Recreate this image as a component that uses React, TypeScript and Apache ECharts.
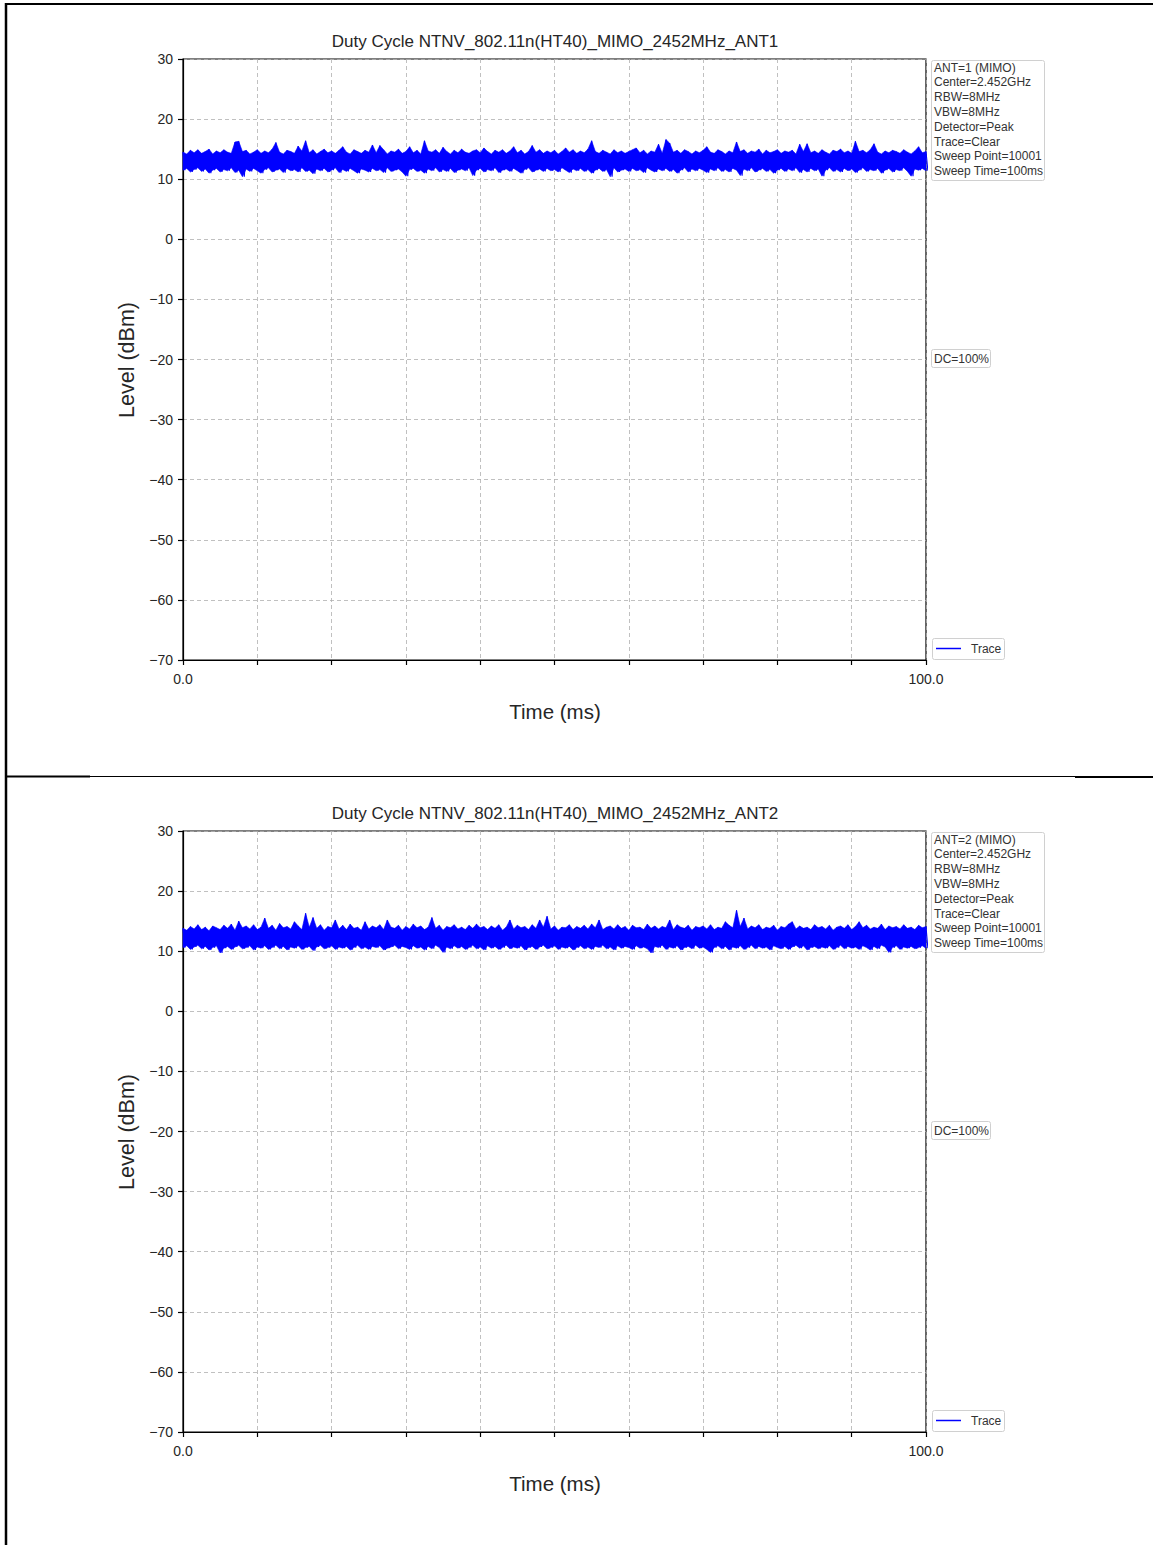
import React, { useEffect, useRef } from "react";
import * as echarts from "echarts";

const TIME_STEP = 0.5; // ms between read envelope samples
const titles = [
  "Duty Cycle NTNV_802.11n(HT40)_MIMO_2452MHz_ANT1",
  "Duty Cycle NTNV_802.11n(HT40)_MIMO_2452MHz_ANT2",
];
const infoLines1 = ["ANT=1 (MIMO)", "Center=2.452GHz", "RBW=8MHz", "VBW=8MHz", "Detector=Peak", "Trace=Clear", "Sweep Point=10001", "Sweep Time=100ms"];
const infoLines2 = ["ANT=2 (MIMO)", "Center=2.452GHz", "RBW=8MHz", "VBW=8MHz", "Detector=Peak", "Trace=Clear", "Sweep Point=10001", "Sweep Time=100ms"];
const dcText = "DC=100%";
const legendName = "Trace";
const xLabelText = "Time (ms)";
const yLabelText = "Level (dBm)";
const xMin = 0, xMax = 100, xStep = 10;
const yMin = -70, yMax = 30, yStep = 10;

// ANT1 trace: upper (peak) excursions, one per 0.5 ms
const ant1Upper = [
  14.5, 14.2, 14.8, 14.4, 14.9, 14.3, 14.6, 15.0, 14.2, 14.7,
  14.4, 14.9, 14.5, 14.3, 16.2, 16.3, 14.6, 14.8, 14.2, 14.5,
  14.9, 14.3, 14.7, 14.4, 15.0, 16.1, 14.5, 14.2, 14.8, 14.6,
  14.3, 15.5, 14.7, 16.4, 14.4, 14.9, 14.2, 14.6, 15.0, 14.4,
  14.7, 14.3, 14.8, 15.4, 14.5, 14.2, 14.9, 14.6, 14.3, 14.8,
  14.5, 15.7, 14.4, 15.6, 14.9, 14.2, 14.7, 14.5, 15.0, 14.3,
  14.6, 15.4, 14.4, 14.8, 14.2, 16.4, 14.7, 14.5, 14.9, 14.3,
  15.3, 14.6, 14.2, 14.8, 14.4, 15.0, 14.5, 14.3, 14.7, 14.9,
  14.4, 15.2, 14.6, 14.2, 14.8, 14.5, 14.9, 14.3, 14.7, 15.4,
  14.4, 14.8, 14.2, 14.6, 15.6, 14.5, 14.9, 14.3, 14.7, 14.4,
  14.8, 14.2, 14.6, 15.2, 14.5, 14.9, 14.3, 14.7, 14.4, 15.0,
  16.4, 14.6, 14.3, 14.8, 14.5, 14.2, 14.9, 14.4, 14.7, 14.3,
  14.6, 14.9, 15.2, 14.4, 14.8, 14.2, 14.7, 14.5, 15.8, 14.3,
  16.6, 16.0, 14.5, 14.8, 14.3, 14.9, 14.6, 14.2, 14.7, 14.4,
  14.8, 15.4, 14.5, 14.3, 14.9, 14.6, 14.2, 14.7, 14.4, 16.2,
  14.6, 14.9, 14.3, 14.7, 14.5, 15.0, 14.2, 14.8, 14.4, 14.6,
  14.9, 14.3, 14.7, 14.5, 14.8, 14.2, 15.8, 14.6, 15.9, 14.4,
  14.7, 14.3, 14.9, 14.5, 14.2, 14.8, 14.6, 15.0, 14.4, 14.7,
  14.3, 16.3, 14.6, 14.8, 14.4, 14.9, 15.9, 14.5, 14.2, 14.7,
  14.4, 14.8, 14.6, 14.3, 14.9, 14.5, 14.2, 14.7, 15.4, 14.4,
  14.6,
];
// ANT1 trace: lower excursions, one per 0.5 ms (offset by 0.25 ms)
const ant1Lower = [
  11.5, 11.8, 11.2, 11.6, 11.9, 11.3, 11.7, 11.0, 11.5, 11.8,
  11.2, 11.6, 11.4, 11.9, 11.1, 11.5, 10.4, 11.7, 11.3, 11.8,
  11.4, 11.0, 11.6, 11.9, 11.2, 11.5, 11.7, 11.1, 11.8, 11.4,
  11.6, 11.2, 11.9, 11.3, 11.5, 10.9, 11.7, 11.4, 11.8, 11.2,
  11.5, 11.9, 11.1, 11.6, 11.3, 11.8, 11.4, 11.0, 11.7, 11.5,
  11.2, 11.8, 11.4, 11.6, 11.1, 11.9, 11.3, 11.5, 11.7, 11.2,
  10.5, 11.6, 11.8, 11.3, 11.5, 11.0, 11.7, 11.4, 11.9, 11.2,
  11.6, 11.3, 11.8, 11.1, 11.5, 11.7, 11.4, 11.9, 10.6, 11.5,
  11.8, 11.2, 11.6, 11.4, 11.9, 11.1, 11.5, 11.7, 11.3, 11.8,
  11.4, 11.0, 11.6, 11.9, 11.2, 11.5, 11.7, 11.3, 11.8, 11.4,
  11.6, 11.2, 11.9, 11.5, 11.1, 11.7, 11.4, 11.8, 11.3, 11.6,
  11.0, 11.5, 11.8, 11.3, 11.6, 10.4, 11.9, 11.2, 11.5, 11.7,
  11.3, 11.8, 11.4, 11.6, 11.1, 11.9, 11.5, 11.2, 11.7, 11.4,
  11.8, 11.3, 11.6, 11.0, 11.5, 11.9, 11.2, 11.7, 11.4, 11.8,
  11.5, 11.1, 11.7, 11.4, 11.9, 11.3, 11.6, 11.2, 11.8, 11.5,
  10.6, 11.7, 11.4, 11.9, 11.2, 11.5, 11.8, 11.3, 11.6, 11.0,
  11.5, 11.8, 11.3, 11.7, 11.4, 11.9, 11.1, 11.6, 11.2, 11.8,
  11.4, 11.7, 10.5, 11.5, 11.9, 11.3, 11.6, 11.2, 11.8, 11.4,
  11.7, 11.1, 11.5, 11.9, 11.3, 11.6, 11.4, 11.8, 11.0, 11.5,
  11.8, 11.2, 11.6, 11.4, 11.9, 11.3, 10.5, 11.7, 11.5, 11.8,
  11.4,
];
// ANT2 trace: upper excursions
const ant2Upper = [
  13.8, 13.5, 14.1, 13.7, 14.4, 13.6, 14.0, 13.4, 14.2, 13.9,
  13.6, 14.3, 13.8, 14.5, 13.5, 15.0, 13.9, 14.2, 13.7, 14.4,
  13.6, 14.0, 15.5, 13.8, 14.3, 13.5, 14.6, 13.9, 14.1, 13.7,
  14.9, 14.2, 13.6, 16.3, 14.0, 15.6, 13.8, 14.4, 13.5, 14.1,
  13.9, 15.2, 13.7, 14.3, 13.6, 14.5, 13.8, 14.0, 13.5, 14.9,
  13.7, 14.2, 13.9, 14.4, 13.6, 15.2, 14.0, 13.8, 14.3, 13.5,
  14.1, 13.7, 14.5, 13.9, 14.2, 13.6, 14.0, 15.6, 13.8, 14.3,
  13.5, 14.1, 13.9, 14.4, 13.7, 14.0, 13.6, 14.3, 13.8, 14.5,
  13.9, 14.1, 13.6, 14.2, 13.8, 14.4, 13.5, 14.0, 15.2, 13.7,
  14.3, 13.9, 14.1, 13.6, 14.4, 13.8, 15.2, 14.0, 15.8, 13.7,
  14.2, 13.5, 14.0, 13.9, 14.4, 13.6, 14.1, 13.8, 14.3, 13.7,
  14.5, 13.9, 15.2, 13.6, 14.0, 14.2, 13.7, 14.4, 13.8, 14.1,
  13.5, 14.3, 13.9, 14.0, 13.6, 14.5, 13.8, 14.2, 13.7, 14.1,
  13.9, 15.2, 13.6, 14.4, 14.0, 13.8, 14.3, 13.5, 14.1, 13.9,
  14.2, 13.7, 14.4, 13.6, 14.0, 13.8, 14.9, 14.3, 13.9, 16.8,
  14.1, 15.5, 13.7, 14.2, 13.9, 14.4, 13.6, 14.0, 13.8, 14.3,
  13.5, 14.1, 13.9, 14.5, 14.9, 13.7, 14.2, 13.8, 14.0, 13.6,
  14.4, 13.9, 14.1, 13.7, 14.3, 13.5, 14.0, 14.2, 13.8, 14.4,
  13.6, 14.1, 14.9, 13.9, 14.3, 13.7, 14.0, 13.8, 14.5, 13.6,
  14.2, 13.9, 14.1, 13.7, 14.4, 13.8, 14.0, 13.6, 14.3, 13.9,
  14.1,
];
// ANT2 trace: lower excursions
const ant2Lower = [
  10.6, 10.9, 10.3, 10.7, 11.0, 10.4, 10.8, 10.2, 10.6, 10.9,
  9.7, 10.5, 10.8, 10.3, 10.7, 11.0, 10.4, 10.6, 10.9, 10.2,
  10.7, 10.5, 10.9, 10.3, 10.6, 11.0, 10.4, 10.8, 10.2, 10.7,
  10.5, 10.9, 10.3, 10.6, 10.8, 10.1, 10.7, 11.0, 10.4, 10.6,
  10.9, 10.3, 10.7, 10.5, 10.8, 10.2, 10.6, 11.0, 10.4, 10.7,
  10.3, 10.8, 10.6, 10.9, 10.2, 10.5, 10.7, 11.0, 10.4, 10.8,
  10.6, 10.3, 10.9, 10.5, 10.7, 10.2, 10.8, 10.4, 11.0, 10.6,
  9.8, 10.7, 10.4, 10.9, 10.5, 10.8, 10.3, 10.6, 11.0, 10.4,
  10.7, 10.2, 10.9, 10.5, 10.8, 10.3, 10.6, 11.0, 10.4, 10.7,
  10.5, 10.9, 10.2, 10.6, 10.8, 10.3, 10.7, 11.0, 10.4, 10.6,
  10.9, 10.3, 10.7, 10.5, 10.8, 10.2, 10.6, 10.9, 10.4, 10.7,
  10.3, 10.8, 10.6, 11.0, 10.4, 10.7, 10.2, 10.9, 10.5, 10.8,
  10.6, 10.3, 10.9, 10.5, 10.7, 10.4, 9.7, 10.8, 10.6, 11.0,
  10.3, 10.7, 10.5, 10.9, 10.2, 10.6, 10.8, 10.4, 11.0, 10.5,
  10.7, 10.3, 9.8, 10.6, 10.9, 10.4, 10.8, 10.2, 10.7, 10.5,
  10.9, 10.3, 10.6, 11.0, 10.4, 10.8, 10.5, 10.7, 10.2, 10.9,
  10.6, 10.4, 10.8, 10.3, 10.7, 11.0, 10.5, 10.9, 10.2, 10.6,
  10.8, 10.4, 10.7, 10.5, 10.9, 10.3, 10.6, 11.0, 10.4, 10.8,
  10.5, 10.7, 10.3, 10.9, 10.6, 10.2, 10.8, 10.4, 11.0, 10.7,
  9.8, 10.6, 10.9, 10.3, 10.7, 10.5, 10.8, 10.4, 10.6, 10.9,
  10.5,
];

const FONT = "Liberation Sans, Arial, sans-serif";
const TXT = "#262626";
const TRACE_BLUE = "#0000ff";

const PLOT_LEFT = 183;
const PLOT_W = 743;
const PLOT_H = 601;
const PANEL_TOPS = [59, 831];

// interleave read peaks and troughs in time order to form the sweep trace
function traceData(upper: number[], lower: number[]) {
  const out: number[][] = [];
  upper.forEach((u, i) => {
    out.push([i * TIME_STEP, u]);
    if (i < lower.length) out.push([i * TIME_STEP + TIME_STEP / 2, lower[i]]);
  });
  return out;
}

function App() {
  const ref = useRef<HTMLDivElement>(null);
  useEffect(() => {
    if (!ref.current) return;
    const chart = echarts.init(ref.current, null, { renderer: "svg" });

    const xAxisBase = (gi: number) => ({
      type: "value",
      gridIndex: gi,
      min: xMin,
      max: xMax,
      interval: xStep,
      axisLine: { show: true, onZero: false, lineStyle: { color: "#000", width: 1.2 } },
      axisTick: { show: true, inside: false, length: 5, lineStyle: { color: "#000", width: 1.2 } },
      axisLabel: {
        show: true,
        margin: 12,
        fontSize: 14,
        color: TXT,
        fontFamily: FONT,
        showMinLabel: true,
        showMaxLabel: true,
        formatter: (v: number) => (v === xMin || v === xMax ? v.toFixed(1) : ""),
      },
      splitLine: { show: true, lineStyle: { color: "#b0b0b0", type: [4, 3], width: 0.8 } },
    });
    const yAxisBase = (gi: number) => ({
      type: "value",
      gridIndex: gi,
      min: yMin,
      max: yMax,
      interval: yStep,
      axisLine: { show: true, onZero: false, lineStyle: { color: "#000", width: 1.2 } },
      axisTick: { show: true, inside: false, length: 5, lineStyle: { color: "#000", width: 1.2 } },
      axisLabel: {
        show: true,
        margin: 10,
        fontSize: 14,
        color: TXT,
        fontFamily: FONT,
        formatter: (v: number) => (v < 0 ? "\u2212" + Math.abs(v) : String(v)),
      },
      splitLine: { show: true, lineStyle: { color: "#b0b0b0", type: [4, 3], width: 0.8 } },
    });

    const graphics: any[] = [];
    const infos = [infoLines1, infoLines2];
    PANEL_TOPS.forEach((top, p) => {
      const off = top - 59;
      graphics.push({
        type: "text", x: 555, y: 41 + off,
        style: { text: titles[p], font: `17px ${FONT}`, fill: TXT, textAlign: "center", textVerticalAlign: "middle" },
      });
      graphics.push({
        type: "text", x: 555, y: 711 + off,
        style: { text: xLabelText, font: `20.5px ${FONT}`, fill: TXT, textAlign: "center", textVerticalAlign: "middle" },
      });
      graphics.push({
        type: "text", x: 127, y: 360 + off, rotation: Math.PI / 2,
        style: { text: yLabelText, font: `21.5px ${FONT}`, fill: TXT, textAlign: "center", textVerticalAlign: "middle" },
      });
      graphics.push({
        type: "rect", shape: { x: 931.5, y: 60.5 + off, width: 113, height: 120, r: 2 },
        style: { fill: "#fff", stroke: "#d0d0d0", lineWidth: 1 },
      });
      infos[p].forEach((line, i) => {
        graphics.push({
          type: "text", x: 934, y: 67.5 + off + i * 14.8,
          style: { text: line, font: `12px ${FONT}`, fill: "#333", textAlign: "left", textVerticalAlign: "middle" },
        });
      });
      graphics.push({
        type: "rect", shape: { x: 931.5, y: 349.5 + off, width: 59, height: 18, r: 2 },
        style: { fill: "#fff", stroke: "#d0d0d0", lineWidth: 1 },
      });
      graphics.push({
        type: "text", x: 934, y: 358.5 + off,
        style: { text: dcText, font: `12px ${FONT}`, fill: "#333", textAlign: "left", textVerticalAlign: "middle" },
      });
      graphics.push({
        type: "rect", shape: { x: 932.5, y: 638.5 + off, width: 72, height: 21, r: 2 },
        style: { fill: "#fff", stroke: "#d0d0d0", lineWidth: 1 },
      });
      graphics.push({
        type: "line", shape: { x1: 936, y1: 648.5 + off, x2: 961, y2: 648.5 + off },
        style: { stroke: TRACE_BLUE, lineWidth: 1.5 },
      });
      graphics.push({
        type: "text", x: 971, y: 648.5 + off,
        style: { text: legendName, font: `12px ${FONT}`, fill: "#333", textAlign: "left", textVerticalAlign: "middle" },
      });
    });
    graphics.push({ type: "line", shape: { x1: 5, y1: 4, x2: 1153, y2: 4 }, style: { stroke: "#000", lineWidth: 2 } });
    graphics.push({ type: "line", shape: { x1: 6, y1: 3, x2: 6, y2: 1545 }, style: { stroke: "#000", lineWidth: 2.5 } });
    graphics.push({ type: "line", shape: { x1: 6, y1: 776.5, x2: 1153, y2: 776.5 }, style: { stroke: "#000", lineWidth: 1 } });
    graphics.push({ type: "line", shape: { x1: 6, y1: 776.5, x2: 90, y2: 776.5 }, style: { stroke: "#000", lineWidth: 2 } });
    graphics.push({ type: "line", shape: { x1: 1075, y1: 777, x2: 1153, y2: 777 }, style: { stroke: "#000", lineWidth: 2 } });

    const seriesFor = (upper: number[], lower: number[], gi: number) => {
      const bandRows = upper.map((u, i) => [i * TIME_STEP, lower[i], u]);
      return [
        // dense body of the sweep between its lower and upper excursions
        {
          type: "custom",
          name: "band-" + gi,
          xAxisIndex: gi, yAxisIndex: gi,
          silent: true,
          encode: { x: 0, y: [1, 2] },
          data: bandRows,
          renderItem: (params: any, api: any) => {
            if (params.dataIndex !== 0) return null;
            const top = bandRows.map((r) => api.coord([r[0], r[2]]));
            const bottom = bandRows.map((r) => api.coord([r[0], r[1]])).reverse();
            return {
              type: "polygon",
              shape: { points: top.concat(bottom) },
              style: { fill: TRACE_BLUE, stroke: TRACE_BLUE, lineWidth: 0.6 },
            };
          },
          z: 2,
        },
        // the sweep trace itself
        {
          type: "line",
          name: legendName,
          xAxisIndex: gi, yAxisIndex: gi,
          data: traceData(upper, lower),
          showSymbol: false, symbol: "none",
          clip: true,
          lineStyle: { color: TRACE_BLUE, width: 1.1 },
          itemStyle: { color: TRACE_BLUE },
          z: 3,
        },
      ];
    };

    chart.setOption({
      animation: false,
      backgroundColor: "#ffffff",
      grid: PANEL_TOPS.map((top) => ({
        left: PLOT_LEFT, top, width: PLOT_W, height: PLOT_H,
        show: true, borderColor: "#000", borderWidth: 1.2, backgroundColor: "transparent",
        containLabel: false,
      })),
      xAxis: [xAxisBase(0), xAxisBase(1)],
      yAxis: [yAxisBase(0), yAxisBase(1)],
      series: [...seriesFor(ant1Upper, ant1Lower, 0), ...seriesFor(ant2Upper, ant2Lower, 1)],
      graphic: graphics,
    });
    return () => chart.dispose();
  }, []);
  return (
    <div style={{ position: "absolute", left: 0, top: 0, width: 1153, height: 1545, background: "#fff" }}>
      <div ref={ref} style={{ width: 1153, height: 1545 }} />
    </div>
  );
}

export default App;
